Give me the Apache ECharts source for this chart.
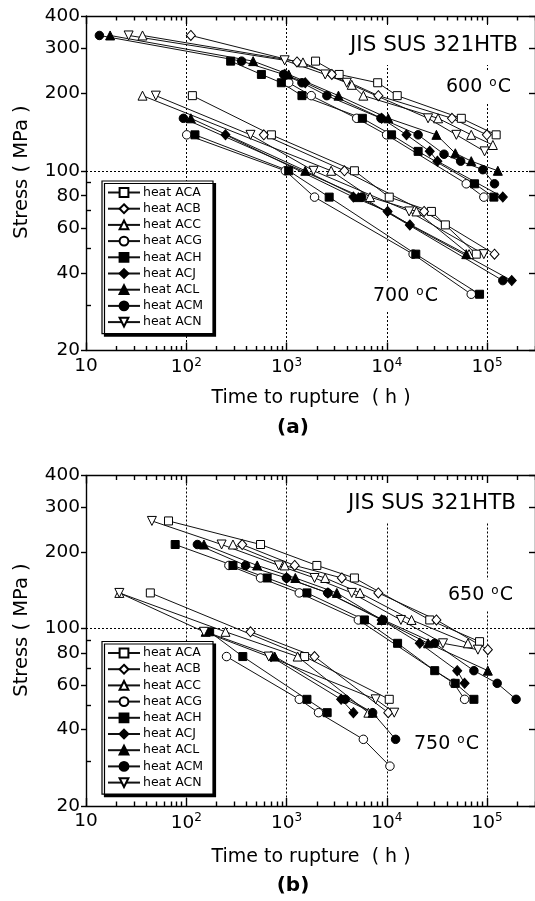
<!DOCTYPE html>
<html><head><meta charset="utf-8">
<script src="https://cdn.jsdelivr.net/npm/echarts@6/dist/echarts.min.js"></script>
<style>html,body{margin:0;padding:0;background:#fff}#c{width:535px;height:901px}</style>
</head><body><div id="c"></div>
<script>
const heats = ['heat ACA','heat ACB','heat ACC','heat ACG','heat ACH','heat ACJ','heat ACL','heat ACM','heat ACN'];
const xMajor = [10, 100, 1000, 10000, 100000];
const xMinor = [20,30,40,50,60,70,80,90,200,300,400,500,600,700,800,900,2000,3000,4000,5000,6000,7000,8000,9000,20000,30000,40000,50000,60000,70000,80000,90000,200000,300000];
const yLabels = [20, 40, 60, 80, 100, 200, 300, 400];
const yMinor = [30, 50, 70, 90];

// panel (a) 600 °C  [time to rupture (h), stress (MPa)]
const a600_ACA = [[1945,267],[3342,237],[8095,220],[12680,196],[55250,160],[123000,138]];
const a600_ACB = [[111,336],[1270,265],[2827,237],[8220,196],[44600,160],[99300,138]];
const a600_ACC = [[36.6,336],[1456,264],[4465,216],[5830,196],[32400,160],[69400,138],[114000,126]];
const a600_ACG = [[1050,220],[1762,196],[5002,160],[9940,138],[61900,89],[92700,79]];
const a600_ACH = [[277,267],[561,237],[887,220],[1423,196],[5700,160],[11140,138],[20500,119],[74900,89],[116700,79]];
const a600_ACJ = [[960,237],[1536,220],[8870,160],[15700,138],[26770,119],[31900,109],[143300,79]];
const a600_ACL = [[17.4,336],[464,267],[1050,237],[3291,196],[10320,160],[31190,138],[48150,117],[69400,109],[127800,100]];
const a600_ACM = [[13.6,336],[356,267],[935,237],[1423,220],[2522,196],[8735,160],[20500,138],[37150,116],[54400,109],[90600,101],[118400,89]];
const a600_ACN = [[26.6,336],[957,269],[2427,237],[3982,220],[25760,160],[49300,138],[94200,119]];
// panel (a) 700 °C
const a700_ACA = [[115,196],[706,138],[4745,100],[10560,79],[27800,69.5],[38300,61.6],[77900,47.4]];
const a700_ACB = [[593,138],[3775,100],[23500,69.5],[118400,47.4]];
const a700_ACC = [[36.6,196],[2785,100],[6795,79],[19740,69.5],[66000,47.4]];
const a700_ACG = [[101,138],[972,100],[1901,79],[18280,47.4],[69400,33.1]];
const a700_ACH = [[122,138],[1050,100],[2660,79],[19430,47.4],[84000,33.1]];
const a700_ACJ = [[246,138],[4637,79],[10170,69.5],[16940,61.6],[176000,37.4]];
const a700_ACL = [[111,160],[1536,100],[5200,79],[61900,47.4]];
const a700_ACM = [[93.6,160],[5610,79],[143300,37.4]];
const a700_ACN = [[49.7,196],[437,138],[1858,100],[16680,69.5],[92700,47.4]];
// panel (b) 650 °C
const b650_ACA = [[66.5,265],[550,214],[2005,177],[4745,158],[26770,108],[84000,88.7]];
const b650_ACB = [[361,214],[1205,177],[3555,158],[8220,138],[31190,108],[101600,82.5]];
const b650_ACC = [[292,214],[957,177],[2427,158],[5400,138],[17620,108],[64300,87.4]];
const b650_ACG = [[266,177],[550,158],[1340,138],[5200,108],[46500,60.8],[59600,52.6]];
const b650_ACH = [[77.5,214],[292,177],[640,158],[1596,138],[5970,108],[12790,87.4],[30000,68.2],[48000,60.8],[73800,52.6]];
const b650_ACJ = [[999,158],[2580,138],[8870,108],[21300,87.4],[50300,68.2],[59600,60.8]];
const b650_ACL = [[150,214],[509,177],[1222,158],[3170,138],[8870,108],[25760,87.4],[101600,68.2]];
const b650_ACM = [[129,214],[390,177],[999,158],[2580,138],[9220,108],[30000,87.4],[73800,68.2],[125900,60.8],[194300,52.6]];
const b650_ACN = [[45.4,265],[225,214],[835,177],[1901,158],[4465,138],[13800,108],[36300,87.4],[80900,82.5]];
// panel (b) 750 °C
const b750_ACA = [[43.8,138],[1513,77.5],[10560,52.6]];
const b750_ACB = [[437,97],[1901,77.5],[10320,46.6]];
const b750_ACC = [[21.5,138],[246,97],[1289,77.5],[6540,46.6]];
const b750_ACG = [[252,77.5],[1340,52.6],[2083,46.6],[5830,36.6],[10730,28.7]];
const b750_ACH = [[171,97],[366,77.5],[1596,52.6],[2539,46.6]];
const b750_ACJ = [[700,77.5],[3500,52.6],[4637,46.6]];
const b750_ACL = [[156,97],[762,77.5],[7210,46.6]];
const b750_ACM = [[3837,52.6],[7210,46.6],[12220,36.6]];
const b750_ACN = [[21.5,138],[150,97],[664,77.5],[7730,52.6],[11850,46.6]];

const FF = '"DejaVu Sans", "Liberation Sans", Arial, sans-serif';
const SYM = {
  'heat ACA': {symbol:'rect', size:8, fill:'#fff'},
  'heat ACB': {symbol:'diamond', size:[9,10], fill:'#fff'},
  'heat ACC': {symbol:'triangle', size:9, fill:'#fff'},
  'heat ACG': {symbol:'circle', size:8.5, fill:'#fff'},
  'heat ACH': {symbol:'rect', size:8, fill:'#000'},
  'heat ACJ': {symbol:'diamond', size:[9,10], fill:'#000'},
  'heat ACL': {symbol:'triangle', size:9, fill:'#000'},
  'heat ACM': {symbol:'circle', size:8.5, fill:'#000'},
  'heat ACN': {symbol:'path://M0,0L10,0L5,9Z', size:9, fill:'#fff'}
};
const panelA = [
  ['heat ACA', a600_ACA, a700_ACA], ['heat ACB', a600_ACB, a700_ACB], ['heat ACC', a600_ACC, a700_ACC],
  ['heat ACG', a600_ACG, a700_ACG], ['heat ACH', a600_ACH, a700_ACH], ['heat ACJ', a600_ACJ, a700_ACJ],
  ['heat ACL', a600_ACL, a700_ACL], ['heat ACM', a600_ACM, a700_ACM], ['heat ACN', a600_ACN, a700_ACN]
];
const panelB = [
  ['heat ACA', b650_ACA, b750_ACA], ['heat ACB', b650_ACB, b750_ACB], ['heat ACC', b650_ACC, b750_ACC],
  ['heat ACG', b650_ACG, b750_ACG], ['heat ACH', b650_ACH, b750_ACH], ['heat ACJ', b650_ACJ, b750_ACJ],
  ['heat ACL', b650_ACL, b750_ACL], ['heat ACM', b650_ACM, b750_ACM], ['heat ACN', b650_ACN, b750_ACN]
];

const AX = {color:'#000', width:1.4};
const supFmt = v => {
  const e = Math.round(Math.log10(v));
  return e === 1 ? '{n|10}' : '{n|10}{s|' + e + '}';
};
const labelRich = {
  n: {fontSize:18.5, fontFamily:FF, color:'#000'},
  s: {fontSize:12, fontFamily:FF, color:'#000', padding:[0,0,10,0]}
};
function xAxes(gi) {
  const base = {type:'log', logBase:10, min:10, max:300000, gridIndex:gi};
  return [
    Object.assign({}, base, {position:'bottom',
      axisLine:{show:true, onZero:false, lineStyle:AX},
      axisTick:{show:true, inside:true, length:8, customValues:xMajor, lineStyle:AX},
      axisLabel:{show:true, customValues:xMajor, formatter:supFmt, rich:labelRich, margin:6},
      splitLine:{show:true, lineStyle:{color:'#000', width:1, type:[2,2]}}}),
    Object.assign({}, base, {position:'bottom',
      axisLine:{show:false}, axisTick:{show:true, inside:true, length:4.5, customValues:xMinor, lineStyle:AX},
      axisLabel:{show:false}, splitLine:{show:false}}),
    Object.assign({}, base, {position:'top',
      axisLine:{show:true, onZero:false, lineStyle:AX},
      axisTick:{show:true, inside:true, length:8, customValues:xMajor, lineStyle:AX},
      axisLabel:{show:false}, splitLine:{show:false}}),
    Object.assign({}, base, {position:'top',
      axisLine:{show:false}, axisTick:{show:true, inside:true, length:4.5, customValues:xMinor, lineStyle:AX},
      axisLabel:{show:false}, splitLine:{show:false}})
  ];
}
function yAxes(gi) {
  const base = {type:'log', logBase:10, min:20, max:400, gridIndex:gi};
  return [
    Object.assign({}, base, {position:'left',
      axisLine:{show:true, onZero:false, lineStyle:AX},
      axisTick:{show:true, inside:false, length:5, customValues:yLabels, lineStyle:AX},
      axisLabel:{show:true, customValues:yLabels, margin:6, color:'#000', fontSize:18.5, fontFamily:FF, formatter: v => String(Math.round(v))},
      splitLine:{show:false}}),
    Object.assign({}, base, {position:'left',
      axisLine:{show:false}, axisTick:{show:false, customValues:[100]}, axisLabel:{show:false},
      splitLine:{show:true, lineStyle:{color:'#000', width:1, type:[2,2]}}}),
    Object.assign({}, base, {position:'left',
      axisLine:{show:false}, axisTick:{show:true, inside:true, length:5, customValues:yMinor, lineStyle:AX},
      axisLabel:{show:false}, splitLine:{show:false}}),
    Object.assign({}, base, {position:'right',
      axisLine:{show:true, onZero:false, lineStyle:AX},
      axisTick:{show:true, inside:true, length:6, customValues:yLabels, lineStyle:AX},
      axisLabel:{show:false}, splitLine:{show:false}})
  ];
}
function mk(name, data, gi) {
  const s = SYM[name];
  return {type:'line', name: name, data: data, xAxisIndex: gi*4, yAxisIndex: gi*4,
    symbol: s.symbol, symbolSize: s.size, showAllSymbol: true, animation: false, z: 3,
    itemStyle: {color: s.fill, borderColor: '#000', borderWidth: 1, opacity: 1},
    lineStyle: {color: '#111', width: 1}};
}
const series = [];
panelA.forEach(r => { series.push(mk(r[0], r[1], 0)); series.push(mk(r[0], r[2], 0)); });
panelB.forEach(r => { series.push(mk(r[0], r[1], 1)); series.push(mk(r[0], r[2], 1)); });

function legend(top) {
  return {data: heats, orient:'vertical', left:102, top: top, itemWidth:32, itemHeight:11, itemGap:3.2,
    padding:[5,10,5,5], backgroundColor:'#fff', borderColor:'#000', borderWidth:1.2,
    shadowColor:'#000', shadowBlur:0, shadowOffsetX:2.5, shadowOffsetY:2.5,
    textStyle:{fontSize:12.5, fontFamily:FF, color:'#000', padding:[0,0,0,-2]}, selectedMode:false};
}
function txt(x, y, text, size, opts) {
  return Object.assign({type:'text', x:x, y:y, z:10, silent:true,
    style: Object.assign({text:text, fontSize:size, fontFamily:FF, fill:'#000',
      align:'left', textAlign:'left', verticalAlign:'middle', textVerticalAlign:'middle'}, (opts && opts.style) || {})},
    (opts && opts.el) || {});
}
const degRich = {
  n: {fontSize:19, fontFamily:FF, fill:'#000', color:'#000'},
  s: {fontSize:12, fontFamily:FF, fill:'#000', color:'#000', padding:[0,1,9,1]}
};
function tempText(x, y, t) {
  return txt(x, y, '{n|' + t + ' }{s|o}{n|C}', 19, {style:{rich:degRich, backgroundColor:'#fff', padding:[5,3]}});
}
const graphics = [
  txt(345, 45, 'JIS SUS 321HTB', 21.5, {style:{backgroundColor:'#fff', padding:[9,5]}}),
  tempText(443, 87, '600'),
  tempText(370, 296, '700'),
  txt(343, 503, 'JIS SUS 321HTB', 21.5, {style:{backgroundColor:'#fff', padding:[9,5]}}),
  tempText(445, 595, '650'),
  tempText(411, 744, '750'),
  txt(22, 172, 'Stress ( MPa )', 19.5, {el:{rotation:Math.PI/2}, style:{align:'center', textAlign:'center'}}),
  txt(22, 630, 'Stress ( MPa )', 19.5, {el:{rotation:Math.PI/2}, style:{align:'center', textAlign:'center'}}),
  txt(311, 398, 'Time to rupture  ( h )', 19, {style:{align:'center', textAlign:'center'}}),
  txt(311, 857, 'Time to rupture  ( h )', 19, {style:{align:'center', textAlign:'center'}}),
  txt(293, 428, '(a)', 20, {style:{align:'center', textAlign:'center', fontWeight:'bold'}}),
  txt(293, 886, '(b)', 20, {style:{align:'center', textAlign:'center', fontWeight:'bold'}})
];

const chart = echarts.init(document.getElementById('c'), null, {renderer:'canvas'});
chart.setOption({
  animation: false,
  backgroundColor: '#fff',
  grid: [
    {left:86, top:16, width:451, height:334.5},
    {left:86, top:475.5, width:451, height:330.5}
  ],
  xAxis: xAxes(0).concat(xAxes(1)),
  yAxis: yAxes(0).concat(yAxes(1)),
  legend: [legend(181), legend(641.5)],
  series: series,
  graphic: graphics
});
</script></body></html>
